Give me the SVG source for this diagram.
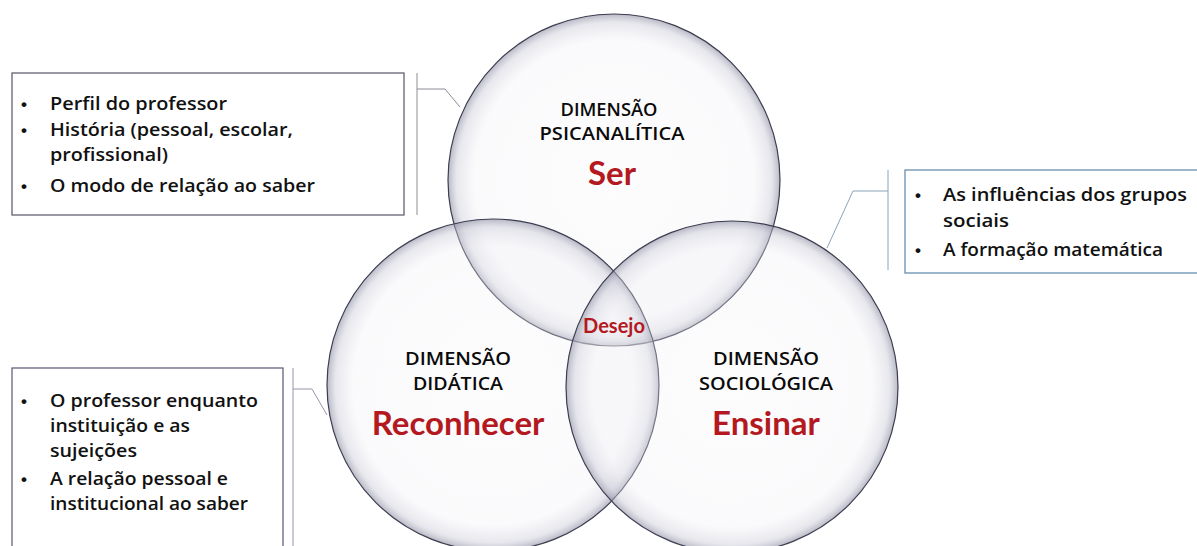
<svg xmlns="http://www.w3.org/2000/svg" width="1197" height="546" viewBox="0 0 1197 546">
<style>
.t{font-family:"Open Sans",Lato,"Liberation Sans",sans-serif;fill:#111;}
.dim{font-family:"Open Sans",Lato,sans-serif;font-size:18.5px;font-weight:600;text-anchor:middle;fill:#0a0a0a;}
.key{font-family:Lato,"Open Sans",sans-serif;font-size:33px;font-weight:bold;fill:#b3191f;text-anchor:middle;}
.des{font-family:Lato,"Open Sans",sans-serif;font-size:20.5px;font-weight:bold;fill:#b3191f;text-anchor:middle;}
.li{font-size:17.5px;font-weight:600;}
.bu{font-family:"Liberation Sans",sans-serif;font-size:17px;font-weight:bold;fill:#111;}
.circ{fill:url(#cg);stroke:#3c3c50;stroke-width:1.2;}
.box{fill:#fff;stroke-width:1.2;}
.br{fill:none;stroke-width:1;}
</style>
<defs>
<radialGradient id="cg" cx="0.5" cy="0.5" r="0.5">
<stop offset="0" stop-color="#f6f6fa" stop-opacity="0.3"/>
<stop offset="0.84" stop-color="#efeff4" stop-opacity="0.3"/>
<stop offset="0.95" stop-color="#c8c8d6" stop-opacity="0.45"/>
<stop offset="1" stop-color="#8a8aa0" stop-opacity="0.6"/>
</radialGradient>
</defs>
<rect width="1197" height="546" fill="#fff"/>
<g id="connectors">
<path class="br" stroke="#8c8c96" d="M417,73 V215 M417,89 H445 L460,107"/>
<path class="br" stroke="#8aa4bc" d="M888,170 V270 M888,191 H853 L827,248"/>
<path class="br" stroke="#9a94aa" d="M293,368 V546 M293,389 H312 L327,415"/>
</g>
<g id="circle-ser">
<circle class="circ" cx="614" cy="180" r="166"/>
</g>
<g id="circle-reconhecer">
<circle class="circ" cx="493" cy="385" r="166"/>
</g>
<g id="circle-ensinar">
<circle class="circ" cx="732" cy="387" r="166"/>
</g>
<g id="labels-ser">
<text class="t dim" x="609" y="116" textLength="97" lengthAdjust="spacingAndGlyphs">DIMENSÃO</text>
<text class="t dim" x="612" y="140" textLength="145" lengthAdjust="spacingAndGlyphs">PSICANALÍTICA</text>
<text class="t key" x="612" y="185">Ser</text>
</g>
<g id="labels-reconhecer">
<text class="t dim" x="458" y="365" textLength="106" lengthAdjust="spacingAndGlyphs">DIMENSÃO</text>
<text class="t dim" x="458" y="390" textLength="90" lengthAdjust="spacingAndGlyphs">DIDÁTICA</text>
<text class="t key" x="458" y="435">Reconhecer</text>
</g>
<g id="labels-ensinar">
<text class="t dim" x="766" y="365" textLength="106" lengthAdjust="spacingAndGlyphs">DIMENSÃO</text>
<text class="t dim" x="766" y="390" textLength="134" lengthAdjust="spacingAndGlyphs">SOCIOLÓGICA</text>
<text class="t key" x="766" y="435">Ensinar</text>
</g>
<g id="desejo">
<text class="t des" x="614" y="333" textLength="62" lengthAdjust="spacingAndGlyphs">Desejo</text>
</g>
<g id="box-psicanalitica">
<rect class="box" x="12" y="73" width="392" height="142" stroke="#55556a"/>
<text class="bu" x="21" y="110">•</text><text class="t li" x="50" y="110" textLength="177" lengthAdjust="spacingAndGlyphs">Perfil do professor</text>
<text class="bu" x="21" y="136">•</text><text class="t li" x="50" y="136" textLength="243" lengthAdjust="spacingAndGlyphs">História (pessoal, escolar,</text>
<text class="t li" x="50" y="161" textLength="118" lengthAdjust="spacingAndGlyphs">profissional)</text>
<text class="bu" x="21" y="192">•</text><text class="t li" x="50" y="192" textLength="265" lengthAdjust="spacingAndGlyphs">O modo de relação ao saber</text>
</g>
<g id="box-sociologica">
<rect class="box" x="905" y="170" width="300" height="103" stroke="#5a86a8"/>
<text class="bu" x="915" y="201">•</text><text class="t li" x="943" y="201" textLength="244" lengthAdjust="spacingAndGlyphs">As influências dos grupos</text>
<text class="t li" x="943" y="227" textLength="66" lengthAdjust="spacingAndGlyphs">sociais</text>
<text class="bu" x="915" y="256">•</text><text class="t li" x="943" y="256" textLength="220" lengthAdjust="spacingAndGlyphs">A formação matemática</text>
</g>
<g id="box-didatica">
<rect class="box" x="12" y="368" width="271" height="190" stroke="#5e5474"/>
<text class="bu" x="21" y="407">•</text><text class="t li" x="50" y="407" textLength="208" lengthAdjust="spacingAndGlyphs">O professor enquanto</text>
<text class="t li" x="50" y="432" textLength="140" lengthAdjust="spacingAndGlyphs">instituição e as</text>
<text class="t li" x="50" y="457" textLength="87" lengthAdjust="spacingAndGlyphs">sujeições</text>
<text class="bu" x="21" y="485">•</text><text class="t li" x="50" y="485" textLength="178" lengthAdjust="spacingAndGlyphs">A relação pessoal e</text>
<text class="t li" x="50" y="510" textLength="198" lengthAdjust="spacingAndGlyphs">institucional ao saber</text>
</g>
</svg>
